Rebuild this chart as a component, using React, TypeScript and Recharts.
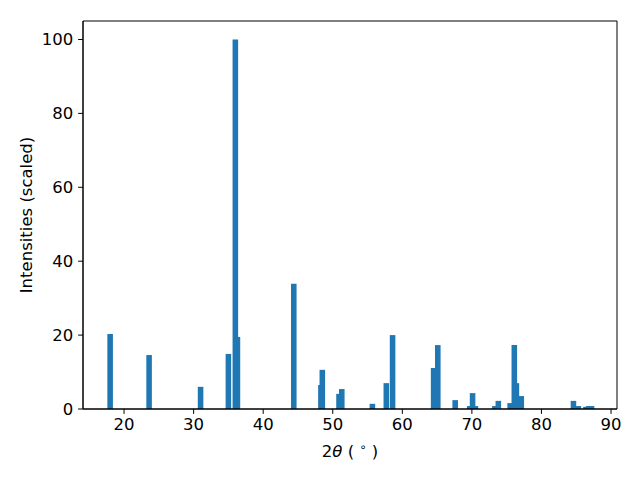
import React from 'react';
import { ComposedChart, XAxis, YAxis, ReferenceArea, Label } from 'recharts';

// peak positions (2θ, degrees) and scaled intensities
const twoTheta = [
  18.0, 23.6, 31.0, 35.0, 36.0, 36.3, 44.4, 48.3, 48.5, 50.9, 51.3, 55.7, 57.7, 58.6,
  64.5, 65.1, 67.6, 69.7, 70.1, 70.5, 73.3, 73.8, 75.5, 76.1, 76.4, 77.1, 84.6, 85.3,
  86.4, 86.8, 87.2,
];
const intensity = [
  20.3, 14.6, 6.0, 14.9, 100, 19.5, 33.9, 6.5, 10.6, 4.1, 5.4, 1.4, 7.0, 20.0,
  11.1, 17.3, 2.4, 0.8, 4.3, 0.8, 0.8, 2.2, 1.6, 17.3, 7.0, 3.5, 2.2, 0.8,
  0.6, 0.8, 0.8,
];
const xTicks = [20, 30, 40, 50, 60, 70, 80, 90];
const yTicks = [0, 20, 40, 60, 80, 100];

const X_DOMAIN: [number, number] = [14.1, 90.86];
const Y_DOMAIN: [number, number] = [0, 105];
const BAR_WIDTH = 0.8;
const COLOR = '#1f77b4';
const FONT = 16.5;

const peaks = twoTheta.map((t, i) => ({ t, v: intensity[i] }));

const XLabel = (props: any) => {
  const { viewBox } = props;
  const cx = viewBox.x + viewBox.width / 2;
  return (
    <text x={cx} y={457} textAnchor="middle" fontSize={FONT} fill="#000">
      2<tspan fontStyle="italic">θ</tspan> ( <tspan fontSize={11.5} dy={-6}>∘</tspan>
      <tspan dy={6}> )</tspan>
    </text>
  );
};

const YLabel = (props: any) => {
  const { viewBox } = props;
  const cy = viewBox.y + viewBox.height / 2;
  return (
    <text x={0} y={0} transform={`translate(32, ${cy}) rotate(-90)`} textAnchor="middle" fontSize={FONT} fill="#000">
      Intensities (scaled)
    </text>
  );
};

const App: React.FC = () => {
  const tickStyle = { fill: '#000', fontSize: FONT };
  return (
    <div style={{ position: 'absolute', left: 0, top: 0, fontFamily: 'DejaVu Sans', background: '#fff' }}>
      <ComposedChart width={640} height={480} data={peaks} margin={{ top: 21, right: 23, bottom: 21, left: 23 }}>
        <XAxis
          type="number"
          dataKey="t"
          domain={X_DOMAIN}
          allowDataOverflow
          ticks={xTicks}
          tick={tickStyle}
          tickSize={4.9}
          tickMargin={4}
          stroke="#000"
          height={50}
        >
          <Label content={<XLabel />} />
        </XAxis>
        <YAxis
          type="number"
          domain={Y_DOMAIN}
          allowDataOverflow
          ticks={yTicks}
          tick={tickStyle}
          tickSize={4.9}
          tickMargin={4.9}
          stroke="#000"
          width={60}
        >
          <Label content={<YLabel />} />
        </YAxis>
        {peaks.map((p, i) => (
          <ReferenceArea
            key={i}
            x1={p.t - BAR_WIDTH / 2}
            x2={p.t + BAR_WIDTH / 2}
            y1={0}
            y2={p.v}
            fill={COLOR}
            fillOpacity={1}
            stroke="none"
          />
        ))}
        {/* axes frame */}
        <ReferenceArea
          x1={X_DOMAIN[0]}
          x2={X_DOMAIN[1]}
          y1={Y_DOMAIN[0]}
          y2={Y_DOMAIN[1]}
          fill="none"
          stroke="#000"
          strokeWidth={1}
        />
      </ComposedChart>
    </div>
  );
};

export default App;
